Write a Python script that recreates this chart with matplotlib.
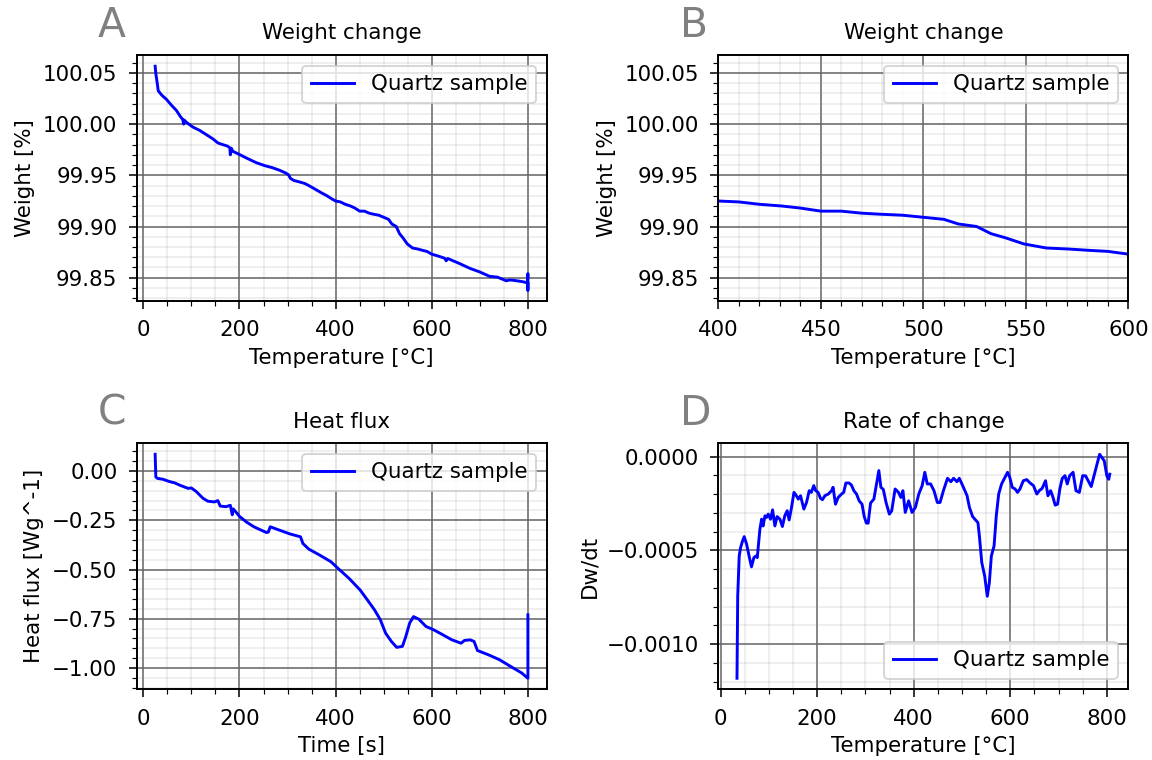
import numpy as np
import matplotlib
matplotlib.use('Agg')
import matplotlib.pyplot as plt
from matplotlib.ticker import ScalarFormatter, MultipleLocator

# TGA weight curve
temp_w = [24.6, 26, 29, 31, 38, 48, 58, 69, 77, 82, 84, 85, 90, 103, 117, 131, 145, 155,
          165, 175, 180, 181, 183, 186, 200, 214, 234, 252, 268, 283, 295, 302, 306, 313,
          325, 336, 348, 359, 370, 382, 392, 400, 410, 420, 431, 440, 450, 460, 470, 479,
          490, 500, 510, 517, 526, 533, 540, 549, 560, 571, 581, 590, 600, 613, 627, 630,
          633, 657, 680, 700, 720, 737, 755, 762, 769, 780, 790, 799, 800, 800, 800]
weight = [100.0565, 100.0494, 100.0397, 100.0326, 100.0284, 100.0242, 100.0187, 100.0132,
          100.0074, 100.0045, 100.0000, 100.0040, 100.0016, 99.9971, 99.9939, 99.9897,
          99.9855, 99.9816, 99.9800, 99.9785, 99.9768, 99.9700, 99.9765, 99.9735, 99.9703,
          99.9670, 99.9625, 99.9595, 99.9575, 99.9550, 99.9525, 99.9505, 99.9470, 99.9450,
          99.9435, 99.9420, 99.9390, 99.9360, 99.9330, 99.9300, 99.9270, 99.9249, 99.9240,
          99.9217, 99.9200, 99.9180, 99.9150, 99.9150, 99.9130, 99.9120, 99.9110, 99.9090,
          99.9070, 99.9025, 99.9000, 99.8930, 99.8890, 99.8830, 99.8790, 99.8780, 99.8767,
          99.8757, 99.8730, 99.8712, 99.8690, 99.8665, 99.8688, 99.8640, 99.8590, 99.8556,
          99.8514, 99.8505, 99.8470, 99.8478, 99.8475, 99.8468, 99.8460, 99.8450, 99.8540,
          99.8378, 99.8445]

# heat flux
time_h = [24.6, 26, 29, 41, 55, 65, 76, 93, 100, 110, 124, 134, 148, 155, 160, 172, 181,
          185, 187, 200, 214, 230, 245, 256, 260, 264, 283, 306, 327, 332, 344, 367, 390,
          405, 428, 451, 466, 481, 493, 504, 516, 527, 539, 546, 554, 562, 573, 588, 604,
          619, 642, 661, 668, 680, 688, 695, 718, 741, 764, 787, 799, 800, 800]
heat_flux = [0.085, -0.030, -0.037, -0.042, -0.054, -0.060, -0.072, -0.088, -0.086, -0.104,
             -0.138, -0.153, -0.157, -0.150, -0.178, -0.181, -0.174, -0.222, -0.192, -0.230,
             -0.258, -0.283, -0.300, -0.312, -0.310, -0.283, -0.300, -0.320, -0.334, -0.368,
             -0.396, -0.427, -0.460, -0.494, -0.545, -0.604, -0.654, -0.705, -0.755, -0.823,
             -0.865, -0.895, -0.890, -0.840, -0.772, -0.739, -0.752, -0.789, -0.806, -0.826,
             -0.857, -0.874, -0.860, -0.857, -0.865, -0.911, -0.933, -0.958, -0.992, -1.025,
             -1.050, -1.052, -0.730]

# derivative of weight
temp_d = [34, 35.5, 38.6, 41.4, 45.5, 49, 54, 59, 64, 69, 73, 76, 81.4, 85, 88, 92, 95,
          98.7, 103.5, 107.7, 112.5, 117, 123, 128, 133, 138, 142, 147, 152, 157, 161, 165.6,
          172.5, 178, 183.6, 188, 193, 197, 202, 207, 211, 216, 223, 230, 233, 238, 243.6,
          250.5, 255, 259.5, 266, 271, 276, 281.6, 287, 293, 297.5, 302, 305.7, 310.6, 317.5,
          323, 327.8, 332, 337, 342.7, 349.6, 354.5, 361.5, 368.5, 373.4, 377.6, 382.5, 389.5,
          396.5, 403.5, 410.5, 417.5, 423, 428, 435, 442, 449, 454.5, 461.5, 470, 477, 482.5,
          489.5, 494.4, 501.4, 510.5, 515.4, 522, 528, 533, 536, 541, 547, 552.4, 556.6, 560.8,
          566.4, 571, 576, 582, 589, 594.4, 599, 604, 610, 615, 620, 627, 634, 641, 648, 655,
          660, 666, 673, 678, 683.6, 688.5, 693, 698, 702.8, 707.7, 713.3, 718, 723, 730, 736,
          743, 750, 756, 767.6, 775, 785, 794.6, 800, 804, 806]
dw_dt = [-0.001182, -0.000745, -0.000530, -0.000486, -0.000450, -0.000427, -0.000468,
         -0.000530, -0.000588, -0.000539, -0.000530, -0.000539, -0.000388, -0.000334,
         -0.000370, -0.000316, -0.000325, -0.000307, -0.000334, -0.000284, -0.000370,
         -0.000320, -0.000334, -0.000373, -0.000316, -0.000289, -0.000338, -0.000271,
         -0.000191, -0.000209, -0.000227, -0.000209, -0.000280, -0.000245, -0.000182,
         -0.000191, -0.000155, -0.000182, -0.000191, -0.000223, -0.000230, -0.000209,
         -0.000200, -0.000182, -0.000164, -0.000254, -0.000218, -0.000200, -0.000191,
         -0.000141, -0.000141, -0.000152, -0.000182, -0.000200, -0.000236, -0.000254,
         -0.000320, -0.000355, -0.000355, -0.000248, -0.000227, -0.000146, -0.000075,
         -0.000164, -0.000175, -0.000245, -0.000307, -0.000289, -0.000173, -0.000191,
         -0.000218, -0.000182, -0.000298, -0.000236, -0.000298, -0.000271, -0.000200,
         -0.000155, -0.000084, -0.000146, -0.000146, -0.000182, -0.000245, -0.000245,
         -0.000182, -0.000116, -0.000134, -0.000116, -0.000134, -0.000116, -0.000155,
         -0.000209, -0.000271, -0.000320, -0.000338, -0.000352, -0.000423, -0.000566,
         -0.000637, -0.000745, -0.000673, -0.000530, -0.000477, -0.000316, -0.000200,
         -0.000146, -0.000111, -0.000084, -0.000111, -0.000164, -0.000173, -0.000191,
         -0.000173, -0.000129, -0.000123, -0.000141, -0.000155, -0.000200, -0.000182,
         -0.000170, -0.000129, -0.000209, -0.000182, -0.000218, -0.000259, -0.000254,
         -0.000170, -0.000116, -0.000102, -0.000146, -0.000102, -0.000084, -0.000182,
         -0.000191, -0.000102, -0.000103, -0.000160, -0.000086, 0.000012, -0.000023,
         -0.000103, -0.000121, -0.000094]

plt.rcParams['xtick.major.size'] = 4.3
plt.rcParams['ytick.major.size'] = 4.3
plt.rcParams['xtick.minor.size'] = 2.4
plt.rcParams['ytick.minor.size'] = 2.4
plt.rcParams['xtick.major.pad'] = 5.5
plt.rcParams['ytick.major.pad'] = 5.5
plt.rcParams['xtick.labelsize'] = 11
plt.rcParams['ytick.labelsize'] = 11
plt.rcParams['axes.linewidth'] = 1.0

fig, axs = plt.subplots(2, 2, figsize=(1152/140, 760/140), dpi=140)
fig.subplots_adjust(left=0.1185, right=0.9795, bottom=0.0928, top=0.9276,
                    wspace=0.419, hspace=0.575)


def style(ax, title, xlabel, ylabel, loc):
    ax.set_title(title, fontsize=11, pad=8)
    ax.set_xlabel(xlabel, fontsize=11)
    ax.set_ylabel(ylabel, fontsize=11)
    ax.grid(True, which='major', color='#666666', linestyle='-')
    ax.minorticks_on()
    ax.grid(True, which='minor', color='#999999', linestyle='-', alpha=0.2)
    ax.legend(loc=loc, fontsize=11)


ax = axs[0, 0]
ax.plot(temp_w, weight, 'b', label='Quartz sample')
ax.yaxis.set_major_formatter(ScalarFormatter(useOffset=False))
style(ax, 'Weight change', 'Temperature [°C]', 'Weight [%]', 'upper right')

ax = axs[0, 1]
ax.plot(temp_w, weight, 'b', label='Quartz sample')
ax.set_xlim(400, 600)
ax.yaxis.set_major_formatter(ScalarFormatter(useOffset=False))
style(ax, 'Weight change', 'Temperature [°C]', 'Weight [%]', 'upper right')

ax = axs[1, 0]
ax.plot(time_h, heat_flux, 'b', label='Quartz sample')
ax.yaxis.set_major_locator(MultipleLocator(0.25))
style(ax, 'Heat flux', 'Time [s]', 'Heat flux [Wg^-1]', 'upper right')

ax = axs[1, 1]
ax.plot(temp_d, dw_dt, 'b', label='Quartz sample')
ax.yaxis.set_major_locator(MultipleLocator(0.0005))
style(ax, 'Rate of change', 'Temperature [°C]', 'Dw/dt', 'lower right')

for x, y, s in [(0.0851, 0.9517, 'A'), (0.5903, 0.9517, 'B'),
                (0.0851, 0.4408, 'C'), (0.5903, 0.4408, 'D')]:
    fig.text(x, y, s, fontsize=21, color='gray', ha='left', va='baseline')

fig.savefig('out.png', dpi=140)
